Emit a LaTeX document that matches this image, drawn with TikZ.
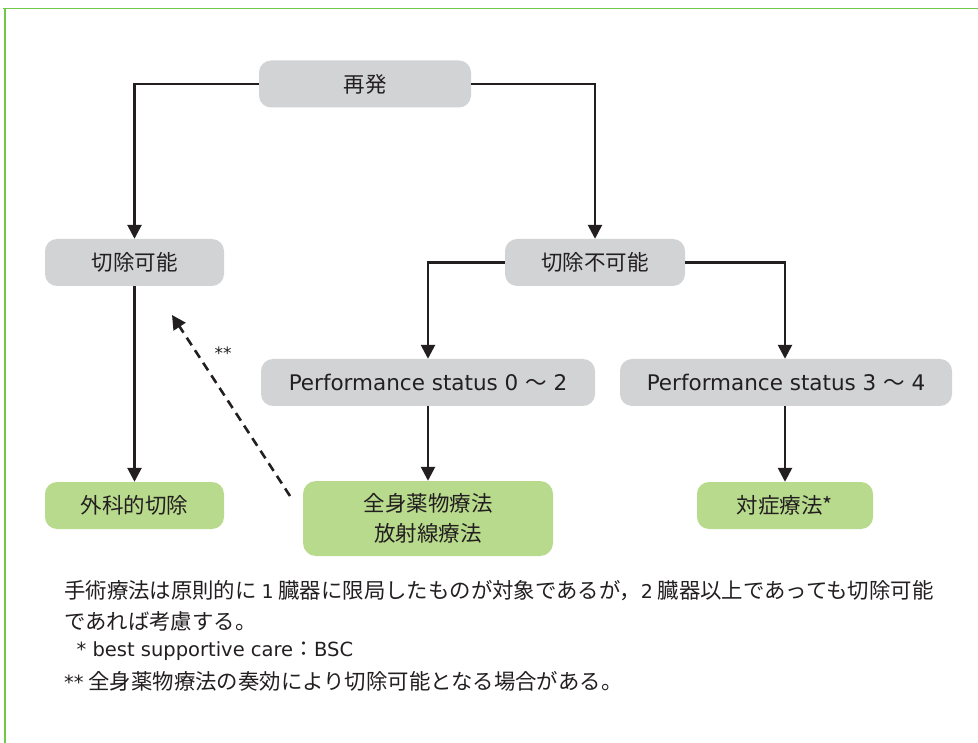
\documentclass[tikz,border=0pt]{standalone}
\usepackage{fontspec}
\setmainfont{Noto Sans CJK JP}
\newfontfamily\lat{DejaVu Sans}
\usetikzlibrary{arrows.meta}
\definecolor{frameg}{RGB}{112,200,72}
\definecolor{boxgray}{RGB}{209,211,212}
\definecolor{boxgreen}{RGB}{184,218,140}
\definecolor{ink}{RGB}{35,31,32}
\tikzset{
  gbox/.style={draw=none, fill=boxgray, rounded corners=12pt, minimum height=47pt, inner sep=0pt, text=ink, font=\fontsize{21.5}{30}\selectfont, align=center},
  cbox/.style={gbox, fill=boxgreen},
  conn/.style={draw=ink, line width=2.6pt, -{Triangle[length=14pt,width=14pt]}},
  dconn/.style={conn, dash pattern=on 9pt off 6pt},
  note/.style={anchor=west, inner sep=0pt, text=ink, font=\fontsize{21.4}{24}\selectfont}
}
\begin{document}
\begin{tikzpicture}[x=1pt,y=-1pt]
\useasboundingbox (0,0) rectangle (978,743);
\draw[frameg, line width=1.6pt] (3,8.5) -- (978,8.5);
\draw[frameg, line width=1.6pt] (5,8.5) -- (5,743);

\node[gbox, minimum width=212pt] (re) at (365,84) {再発};
\node[gbox, minimum width=179pt] (ka) at (134.5,262.5) {切除可能};
\node[gbox, minimum width=180pt] (fk) at (595,262.5) {切除不可能};
\node[gbox, minimum width=334pt] (ps1) at (428,382.5) {{\lat\fontsize{21.5}{30}\selectfont Performance status 0 }～{\lat\fontsize{21.5}{30}\selectfont\ 2}};
\node[gbox, minimum width=332pt] (ps2) at (786,382.5) {{\lat\fontsize{21.5}{30}\selectfont Performance status 3 }～{\lat\fontsize{21.5}{30}\selectfont\ 4}};
\node[cbox, minimum width=179pt] (ge) at (134.5,505.5) {外科的切除};
\node[cbox, minimum width=250pt, minimum height=75pt, rounded corners=13pt] (ch) at (428,518.5) {全身薬物療法\\放射線療法};
\node[cbox, minimum width=176pt] (ta) at (785,505.5) {対症療法*};

\draw[conn] (re.west) -| (ka.north);
\draw[conn] (re.east) -| (fk.north);
\draw[conn] (fk.west) -| (ps1.north);
\draw[conn] (fk.east) -| (ps2.north -| ta.north);
\draw[conn] (ka.south) -- (ge.north);
\draw[conn] (ps1.south) -- (ch.north);
\draw[conn] (ps2.south -| ta.north) -- (ta.north);

\coordinate (ds) at (290,496);
\coordinate (de) at (172,315);
\draw[dconn] (ds) -- (de);
\node[inner sep=0pt, text=ink, font=\lat\fontsize{17}{18}\selectfont] (ss) at (223,353) {**};

\node[note] (n1) at (64,591) {手術療法は原則的に {\lat\fontsize{19}{24}\selectfont 1} 臓器に限局したものが対象であるが，{\lat\fontsize{19}{24}\selectfont 2} 臓器以上であっても切除可能};
\node[note] (n2) at (64,621) {であれば考慮する。};
\node[note] (n3) at (64,651) {\lat\fontsize{19.5}{24}\selectfont \ \ * best supportive care{\rmfamily\fontsize{21}{24}\selectfont ：}BSC};
\node[note] (n4) at (64,681) {{\lat\fontsize{19.5}{24}\selectfont **} 全身薬物療法の奏効により切除可能となる場合がある。};
\end{tikzpicture}
\end{document}
